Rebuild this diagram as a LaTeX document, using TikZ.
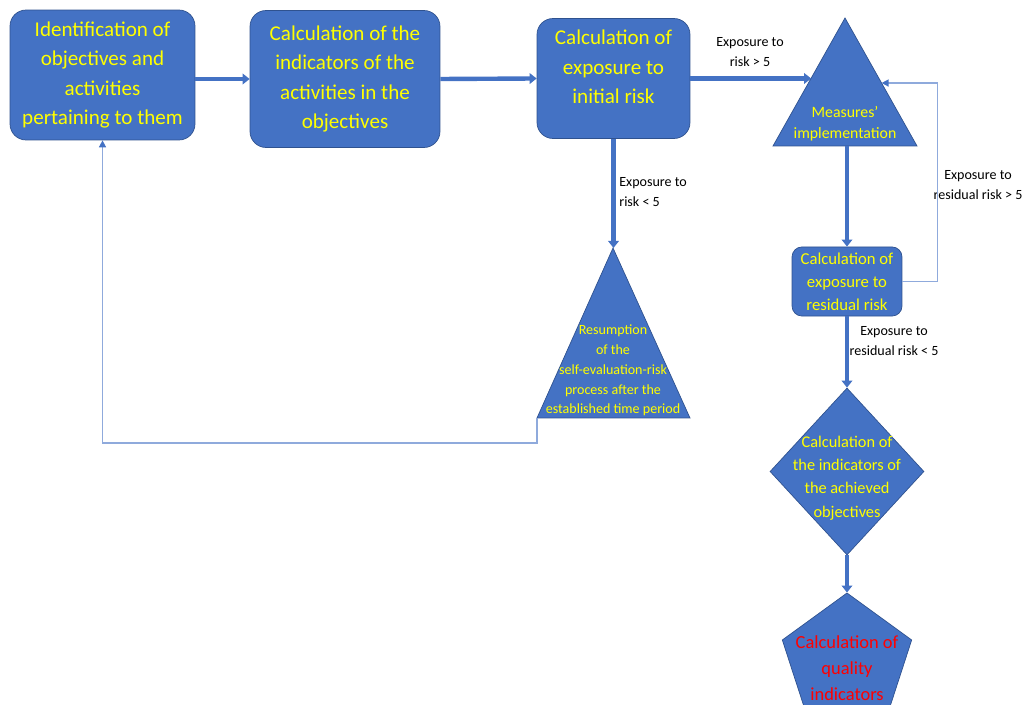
\documentclass[tikz,border=0pt]{standalone}
\usepackage{fontspec}
\setmainfont{Carlito}
\usepackage{tikz}
\usetikzlibrary{arrows.meta, calc, shapes.geometric}
\usepackage{xcolor}
\definecolor{BoxBlue}{HTML}{4472C4}
\definecolor{BoxEdge}{HTML}{2F528F}
\definecolor{LinkBlue}{HTML}{8FAADC}
\definecolor{TextYellow}{HTML}{FFFF00}
\definecolor{TextRed}{HTML}{FF0000}
\tikzset{%
  block/.style={%
    rectangle,
    fill=BoxBlue,
    draw=BoxEdge,
    thin,
    rounded corners=0.32cm,
    text=TextYellow,
    font={\fontsize{12}{16.7}\selectfont},
    align=center%
  },
  shapebox/.style={%
    fill=BoxBlue,
    draw=BoxEdge,
    thin%
  },
  caption/.style={%
    text=TextYellow,
    inner sep=0pt,
    align=center%
  },
  annotate/.style={%
    font={\fontsize{8}{11.3}\selectfont},
    inner sep=0pt,
    align=center%
  },
  signal/.style={%
    color=BoxBlue,
    line width=2.5pt%
  },
  feedback/.style={%
    color=LinkBlue,
    line width=0.8pt%
  },
  arrow/.style={-{Triangle[length=4pt, width=6pt]}},
  thinarrow/.style={-{Triangle[length=4pt, width=4pt, color=BoxBlue]}}
}

\begin{document}
\begin{tikzpicture}[x=0.02cm, y=-0.02cm]
  \useasboundingbox (0,0) rectangle (1025,705);

  % top row
  \node [block, minimum width=3.7cm, minimum height=2.6cm] (Ident) at (102.5,75)
    {Identification of\\objectives and\\activities\\pertaining to them};
  \node [block, minimum width=3.8cm, minimum height=2.74cm] (Indic) at (345,79)
    {Calculation of the\\indicators of the\\activities in the\\objectives};
  \node [block, minimum width=3.06cm, minimum height=2.4cm] (Initial) at (613.5,78.5) {};
  \node [caption, font={\fontsize{12}{16.7}\selectfont}] (InitialText) at (613.5,67)
    {Calculation of\\exposure to\\initial risk};

  % triangles
  \coordinate (MTop) at (845,18);
  \coordinate (MLeft) at (773,146);
  \coordinate (MRight) at (917,146);
  \coordinate (MBase) at (847,146);
  \coordinate (MInL) at ($(MTop)!0.47!(MLeft)$);
  \coordinate (MInR) at ($(MTop)!0.508!(MRight)$);
  \path [shapebox] (MTop) -- (MLeft) -- (MRight) -- cycle;
  \node [caption, font={\fontsize{9}{12}\selectfont}] (Measures) at (845,123.5)
    {Measures'\\implementation};

  \coordinate (RTop) at (613,248);
  \coordinate (RLeft) at (537,418);
  \coordinate (RRight) at (690,418);
  \path [shapebox] (RTop) -- (RLeft) -- (RRight) -- cycle;
  \node [caption, font={\fontsize{8}{11.3}\selectfont}] (Resumption) at (613,370.5)
    {Resumption\\of the\\self-evaluation-risk\\process after the\\established time period};

  % right column
  \node [block, rounded corners=0.2cm, minimum width=2.2cm, minimum height=1.38cm,
    font={\fontsize{9.5}{13}\selectfont}] (Residual) at (847,281.5)
    {Calculation of\\exposure to\\residual risk};
  \node [diamond, shapebox, minimum width=3.08cm, minimum height=3.34cm, inner sep=0pt]
    (Achieved) at (847,471.5) {};
  \node [caption, font={\fontsize{9.3}{13.3}\selectfont}] (AchievedText) at (847,478)
    {Calculation of\\the indicators of\\the achieved\\objectives};
  \node [regular polygon, regular polygon sides=5, shapebox, minimum size=2.72cm,
    inner sep=0pt] (Quality) at (847,661) {};
  \node [caption, text=TextRed, font={\fontsize{10.5}{14.7}\selectfont}] (QualityText)
    at (847,668) {Calculation of\\quality\\indicators};

  % labels
  \node [annotate] (HighRisk) at (750,52) {Exposure to\\risk > 5};
  \node [annotate, anchor=west, align=left] (LowRisk) at (619,192) {Exposure to\\risk < 5};
  \node [annotate] (HighResidual) at (978,185) {Exposure to\\residual risk > 5};
  \node [annotate] (LowResidual) at (894,341) {Exposure to\\residual risk < 5};

  % connectors
  \draw [arrow, signal]
    (Ident.east |- Indic.west) -- (Indic.west);
  \draw [arrow, signal]
    (Indic.east) -- (Initial.west);
  \draw [arrow, signal]
    (Initial.east) -- (Initial.east -| MInL);
  \draw [arrow, signal]
    (Initial.south) -- (Initial.south |- RTop);
  \draw [arrow, signal]
    (MBase) -- (Residual.north);
  \draw [arrow, signal]
    (Residual.south) -- (Achieved.north);
  \draw [arrow, signal]
    (Achieved.south) -- (Quality.corner 1);
  \draw [thinarrow, feedback]
    (RLeft) -- ++(0,25) -| (Ident.south);
  \draw [thinarrow, feedback]
    (Residual.east) -- ++(35,0) |- (MInR);
\end{tikzpicture}
\end{document}
